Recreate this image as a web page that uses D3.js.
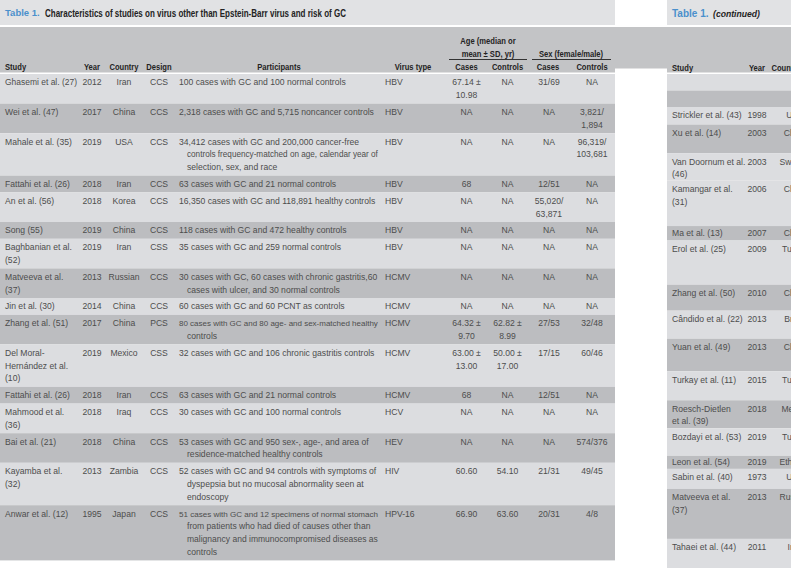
<!DOCTYPE html>
<html><head><meta charset="utf-8">
<script src="https://cdn.jsdelivr.net/npm/d3@7"></script>
<style>body{margin:0;background:#fff;} svg{display:block;font-family:"Liberation Sans",Arial,Helvetica,sans-serif;}</style>
</head><body><svg id="c" width="791" height="568"></svg>
<script>
// ---------- DATA (left panel) ----------
const studies = ["Ghasemi et al. (27)","Wei et al. (47)","Mahale et al. (35)","Fattahi et al. (26)","An et al. (56)","Song (55)","Baghbanian et al.\n(52)","Matveeva et al.\n(37)","Jin et al. (30)","Zhang et al. (51)","Del Moral-\nHernández et al.\n(10)","Fattahi et al. (26)","Mahmood et al.\n(36)","Bai et al. (21)","Kayamba et al.\n(32)","Anwar et al. (12)"];
const years = ["2012","2017","2019","2018","2018","2019","2019","2013","2014","2017","2019","2018","2018","2018","2013","1995"];
const countries = ["Iran","China","USA","Iran","Korea","China","Iran","Russian","China","China","Mexico","Iran","Iraq","China","Zambia","Japan"];
const designs = ["CCS","CCS","CCS","CCS","CCS","CCS","CSS","CCS","CCS","PCS","CSS","CCS","CCS","CCS","CCS","CCS"];
const participants = [
 "100 cases with GC and 100 normal controls",
 "2,318 cases with GC and 5,715 noncancer controls",
 "34,412 cases with GC and 200,000 cancer-free\ncontrols frequency-matched on age, calendar year of\nselection, sex, and race",
 "63 cases with GC and 21 normal controls",
 "16,350 cases with GC and 118,891 healthy controls",
 "118 cases with GC and 472 healthy controls",
 "35 cases with GC and 259 normal controls",
 "30 cases with GC, 60 cases with chronic gastritis,60\ncases with ulcer, and 30 normal controls",
 "60 cases with GC and 60 PCNT as controls",
 "80 cases with GC and 80 age- and sex-matched healthy\ncontrols",
 "32 cases with GC and 106 chronic gastritis controls",
 "63 cases with GC and 21 normal controls",
 "30 cases with GC and 100 normal controls",
 "53 cases with GC and 950 sex-, age-, and area of\nresidence-matched healthy controls",
 "52 cases with GC and 94 controls with symptoms of\ndyspepsia but no mucosal abnormality seen at\nendoscopy",
 "51 cases with GC and 12 specimens of normal stomach\nfrom patients who had died of causes other than\nmalignancy and immunocompromised diseases as\ncontrols"];
const virusTypes = ["HBV","HBV","HBV","HBV","HBV","HBV","HBV","HCMV","HCMV","HCMV","HCMV","HCMV","HCV","HEV","HIV","HPV-16"];
const ageCases = ["67.14 ±\n10.98","NA","NA","68","NA","NA","NA","NA","NA","64.32 ±\n9.70","63.00 ±\n13.00","68","NA","NA","60.60","66.90"];
const ageControls = ["NA","NA","NA","NA","NA","NA","NA","NA","NA","62.82 ±\n8.99","50.00 ±\n17.00","NA","NA","NA","54.10","63.60"];
const sexCases = ["31/69","NA","NA","12/51","55,020/\n63,871","NA","NA","NA","NA","27/53","17/15","12/51","NA","NA","21/31","20/31"];
const sexControls = ["NA","3,821/\n1,894","96,319/\n103,681","NA","NA","NA","NA","NA","NA","32/48","60/46","NA","NA","574/376","49/45","4/8"];

const titleLabel = "Table 1.";
const titleText = "Characteristics of studies on virus other than Epstein-Barr virus and risk of GC";
const contText = "(continued)";
const headers = ["Study","Year","Country","Design","Participants","Virus type","Cases","Controls","Cases","Controls"];
const ageGroupHeader = ["Age (median or","mean ± SD, yr)"];
const sexGroupHeader = "Sex (female/male)";

// ---------- DATA (right panel, continued table, clipped at the page edge) ----------
const rStudies = ["","","Strickler et al. (43)","Xu et al. (14)","Van Doornum et al.\n(46)","Kamangar et al.\n(31)","Ma et al. (13)","Erol et al. (25)","Zhang et al. (50)","Cândido et al. (22)","Yuan et al. (49)","Turkay et al. (11)","Roesch-Dietlen\net al. (39)","Bozdayi et al. (53)","Leon et al. (54)","Sabin et al. (40)","Matveeva et al.\n(37)","Tahaei et al. (44)"];
const rYears = ["","","1998","2003","2003","2006","2007","2009","2010","2013","2013","2015","2018","2019","2019","1973","2013","2011"];
const rCountries = ["","","USA","China","Sweden","China","China","Turkey","China","Brazil","China","Turkey","Mexico","Turkey","Ethiopia","USA","Russian","Iran"];
// row heights (in text-line units); hidden columns set them
const rRowUnits = [1.29,1.29,1.37,2.23,2.15,3.55,1.13,3.45,2.03,2.19,2.54,2.27,2.19,2.15,1.02,1.56,3.91,3.1];
const rHeaders = ["Study","Year","Country"];

// ---------- STYLE ----------
const C = {title:"#e1e2e4", head:"#c3c4c6", light:"#dcdde0", dark:"#bcbdc0",
           text:"#4d4d4d", headText:"#232323", blue:"#4a90cc", rule:"#333"};
const svg = d3.select("#c");

function addLines(g, str, o){
  const lines = String(str).split("\n");
  lines.forEach((ln,i)=>{
    if(!ln) return;
    const ind = (i>0 && o.indent) ? o.indent : 0;
    const t = g.append("text")
      .attr("x", o.x + ind)
      .attr("y", o.yc(i) + o.fs*0.35)
      .attr("text-anchor", o.anchor||"start")
      .attr("font-size", o.fs)
      .attr("font-weight", o.weight||"normal")
      .attr("font-style", o.style||"normal")
      .attr("fill", o.fill).text(ln);
    const w = t.node().getComputedTextLength();
    const maxW = o.maxW ? o.maxW - ind : Infinity;
    if (w > maxW) {
      // shrink the font so the line fits its column
      t.attr("font-size", o.fs * maxW / w);
    } else if (o.squeeze) {
      t.attr("textLength", w*o.squeeze).attr("lengthAdjust","spacingAndGlyphs");
    }
  });
}

// ---------- BACKGROUND BANDS ----------
const L = {x0:0, x1:615}, R = {x0:667, x1:791};
svg.append("rect").attr("x",L.x0).attr("y",0).attr("width",L.x1-L.x0).attr("height",25).attr("fill",C.title);
svg.append("rect").attr("x",R.x0).attr("y",0).attr("width",R.x1-R.x0).attr("height",25).attr("fill",C.title);
svg.append("rect").attr("x",L.x0).attr("y",27).attr("width",L.x1-L.x0).attr("height",45.5).attr("fill",C.head);
svg.append("rect").attr("x",R.x0).attr("y",27).attr("width",R.x1-R.x0).attr("height",45.5).attr("fill",C.head);
svg.append("rect").attr("x",L.x1).attr("y",27).attr("width",R.x0-L.x1).attr("height",41.5).attr("fill",C.head);

// titles
const gT = svg.append("g");
addLines(gT, titleLabel, {x:5, yc:()=>13, fs:9.5, weight:"bold", fill:C.blue});
addLines(gT, titleText, {x:45, yc:()=>13, fs:10, weight:"bold", fill:C.headText, squeeze:0.8});
addLines(gT, titleLabel, {x:672, yc:()=>13.5, fs:10, weight:"bold", fill:C.blue});
addLines(gT, contText, {x:713, yc:()=>13.5, fs:9.6, weight:"bold", style:"italic", fill:C.headText, squeeze:0.9});

// ---------- LEFT TABLE ----------
const lh = 12.8, padU = 4/12.8;
const cols = [
  {vals:studies, x:5, anchor:"start", maxW:72},
  {vals:years, x:92, anchor:"middle"},
  {vals:countries, x:124, anchor:"middle"},
  {vals:designs, x:159, anchor:"middle"},
  {vals:participants, x:179, anchor:"start", maxW:199, indent:8},
  {vals:virusTypes, x:385, anchor:"start"},
  {vals:ageCases, x:466.5, anchor:"middle"},
  {vals:ageControls, x:507.5, anchor:"middle"},
  {vals:sexCases, x:549, anchor:"middle"},
  {vals:sexControls, x:592, anchor:"middle"}
];
const headerX = [5, 92, 124, 159, 279, 413, 466.5, 507.5, 548, 592];
const headerAnchor = ["start","middle","middle","middle","middle","middle","middle","middle","middle","middle"];

const nRows = studies.length;
const rowLines = d3.range(nRows).map(i => d3.max(cols, c => String(c.vals[i]).split("\n").length));
const cum = [0, ...d3.cumsum(rowLines.map(n => n + padU))];
const yL = d3.scaleLinear().domain([0, cum[nRows]]).range([74, 74 + cum[nRows]*lh]);

const gL = svg.append("g");
gL.selectAll("rect.row").data(d3.range(nRows)).join("rect")
  .attr("x", L.x0).attr("width", L.x1-L.x0)
  .attr("y", i => yL(cum[i])).attr("height", i => yL(cum[i+1]) - yL(cum[i]))
  .attr("fill", i => i%2===0 ? C.light : C.dark);

d3.range(nRows).forEach(i=>{
  cols.forEach(c=>{
    addLines(gL, c.vals[i], {x:c.x, anchor:c.anchor, fs:8.6, fill:C.text, maxW:c.maxW, indent:c.indent,
      yc:k => yL(cum[i] + padU/2 + k + 0.5)});
  });
});

// headers
const gH = svg.append("g");
headers.forEach((h,j)=>{
  addLines(gH, h, {x:headerX[j], anchor:headerAnchor[j], yc:()=>66.5, fs:9.5, weight:"bold", fill:C.headText, squeeze:0.8});
});
addLines(gH, ageGroupHeader.join("\n"), {x:488, anchor:"middle", yc:k=>41+k*13, fs:9.5, weight:"bold", fill:C.headText, squeeze:0.8});
addLines(gH, sexGroupHeader, {x:571, anchor:"middle", yc:()=>54, fs:9.5, weight:"bold", fill:C.headText, squeeze:0.8});
gH.append("line").attr("x1",449).attr("x2",527).attr("y1",59.5).attr("y2",59.5).attr("stroke",C.rule).attr("stroke-width",1);
gH.append("line").attr("x1",532).attr("x2",611).attr("y1",59.5).attr("y2",59.5).attr("stroke",C.rule).attr("stroke-width",1);

// ---------- RIGHT TABLE (continued, clipped) ----------
const nR = rStudies.length;
const cumR = [0, ...d3.cumsum(rRowUnits)];
const yR = d3.scaleLinear().domain([0, cumR[nR]]).range([74, 74 + cumR[nR]*lh]);
// band parity: Van Doornum and Kamangar share one light band in the picture
const rParity = d3.range(nR).map(i => (i <= 4 ? i : i - 1) % 2);
const gR = svg.append("g");
gR.selectAll("rect.row").data(d3.range(nR)).join("rect")
  .attr("x", R.x0).attr("width", R.x1-R.x0)
  .attr("y", i => yR(cumR[i])).attr("height", i => yR(cumR[i+1]) - yR(cumR[i]) + (i===nR-1?20:0))
  .attr("fill", i => rParity[i]===0 ? C.light : C.dark);
const rCols = [
  {vals:rStudies, x:672, anchor:"start", maxW:75},
  {vals:rYears, x:757, anchor:"middle"},
  {vals:rCountries, x:795, anchor:"middle"}
];
d3.range(nR).forEach(i=>{
  const hU = cumR[i+1]-cumR[i];
  const first = Math.min(padU/2 + 0.5, hU/2);
  rCols.forEach(c=>{
    addLines(gR, c.vals[i], {x:c.x, anchor:c.anchor, fs:8.6, fill:C.text, maxW:c.maxW,
      yc:k => yR(cumR[i] + first + k)});
  });
});
const rHeadX = [672, 757, 786], rHeadAnchor = ["start","middle","middle"];
rHeaders.forEach((h,j)=>{
  addLines(gR, h, {x:rHeadX[j], anchor:rHeadAnchor[j], yc:()=>67.5, fs:9.5, weight:"bold", fill:C.headText, squeeze:0.8});
});
</script></body></html>
